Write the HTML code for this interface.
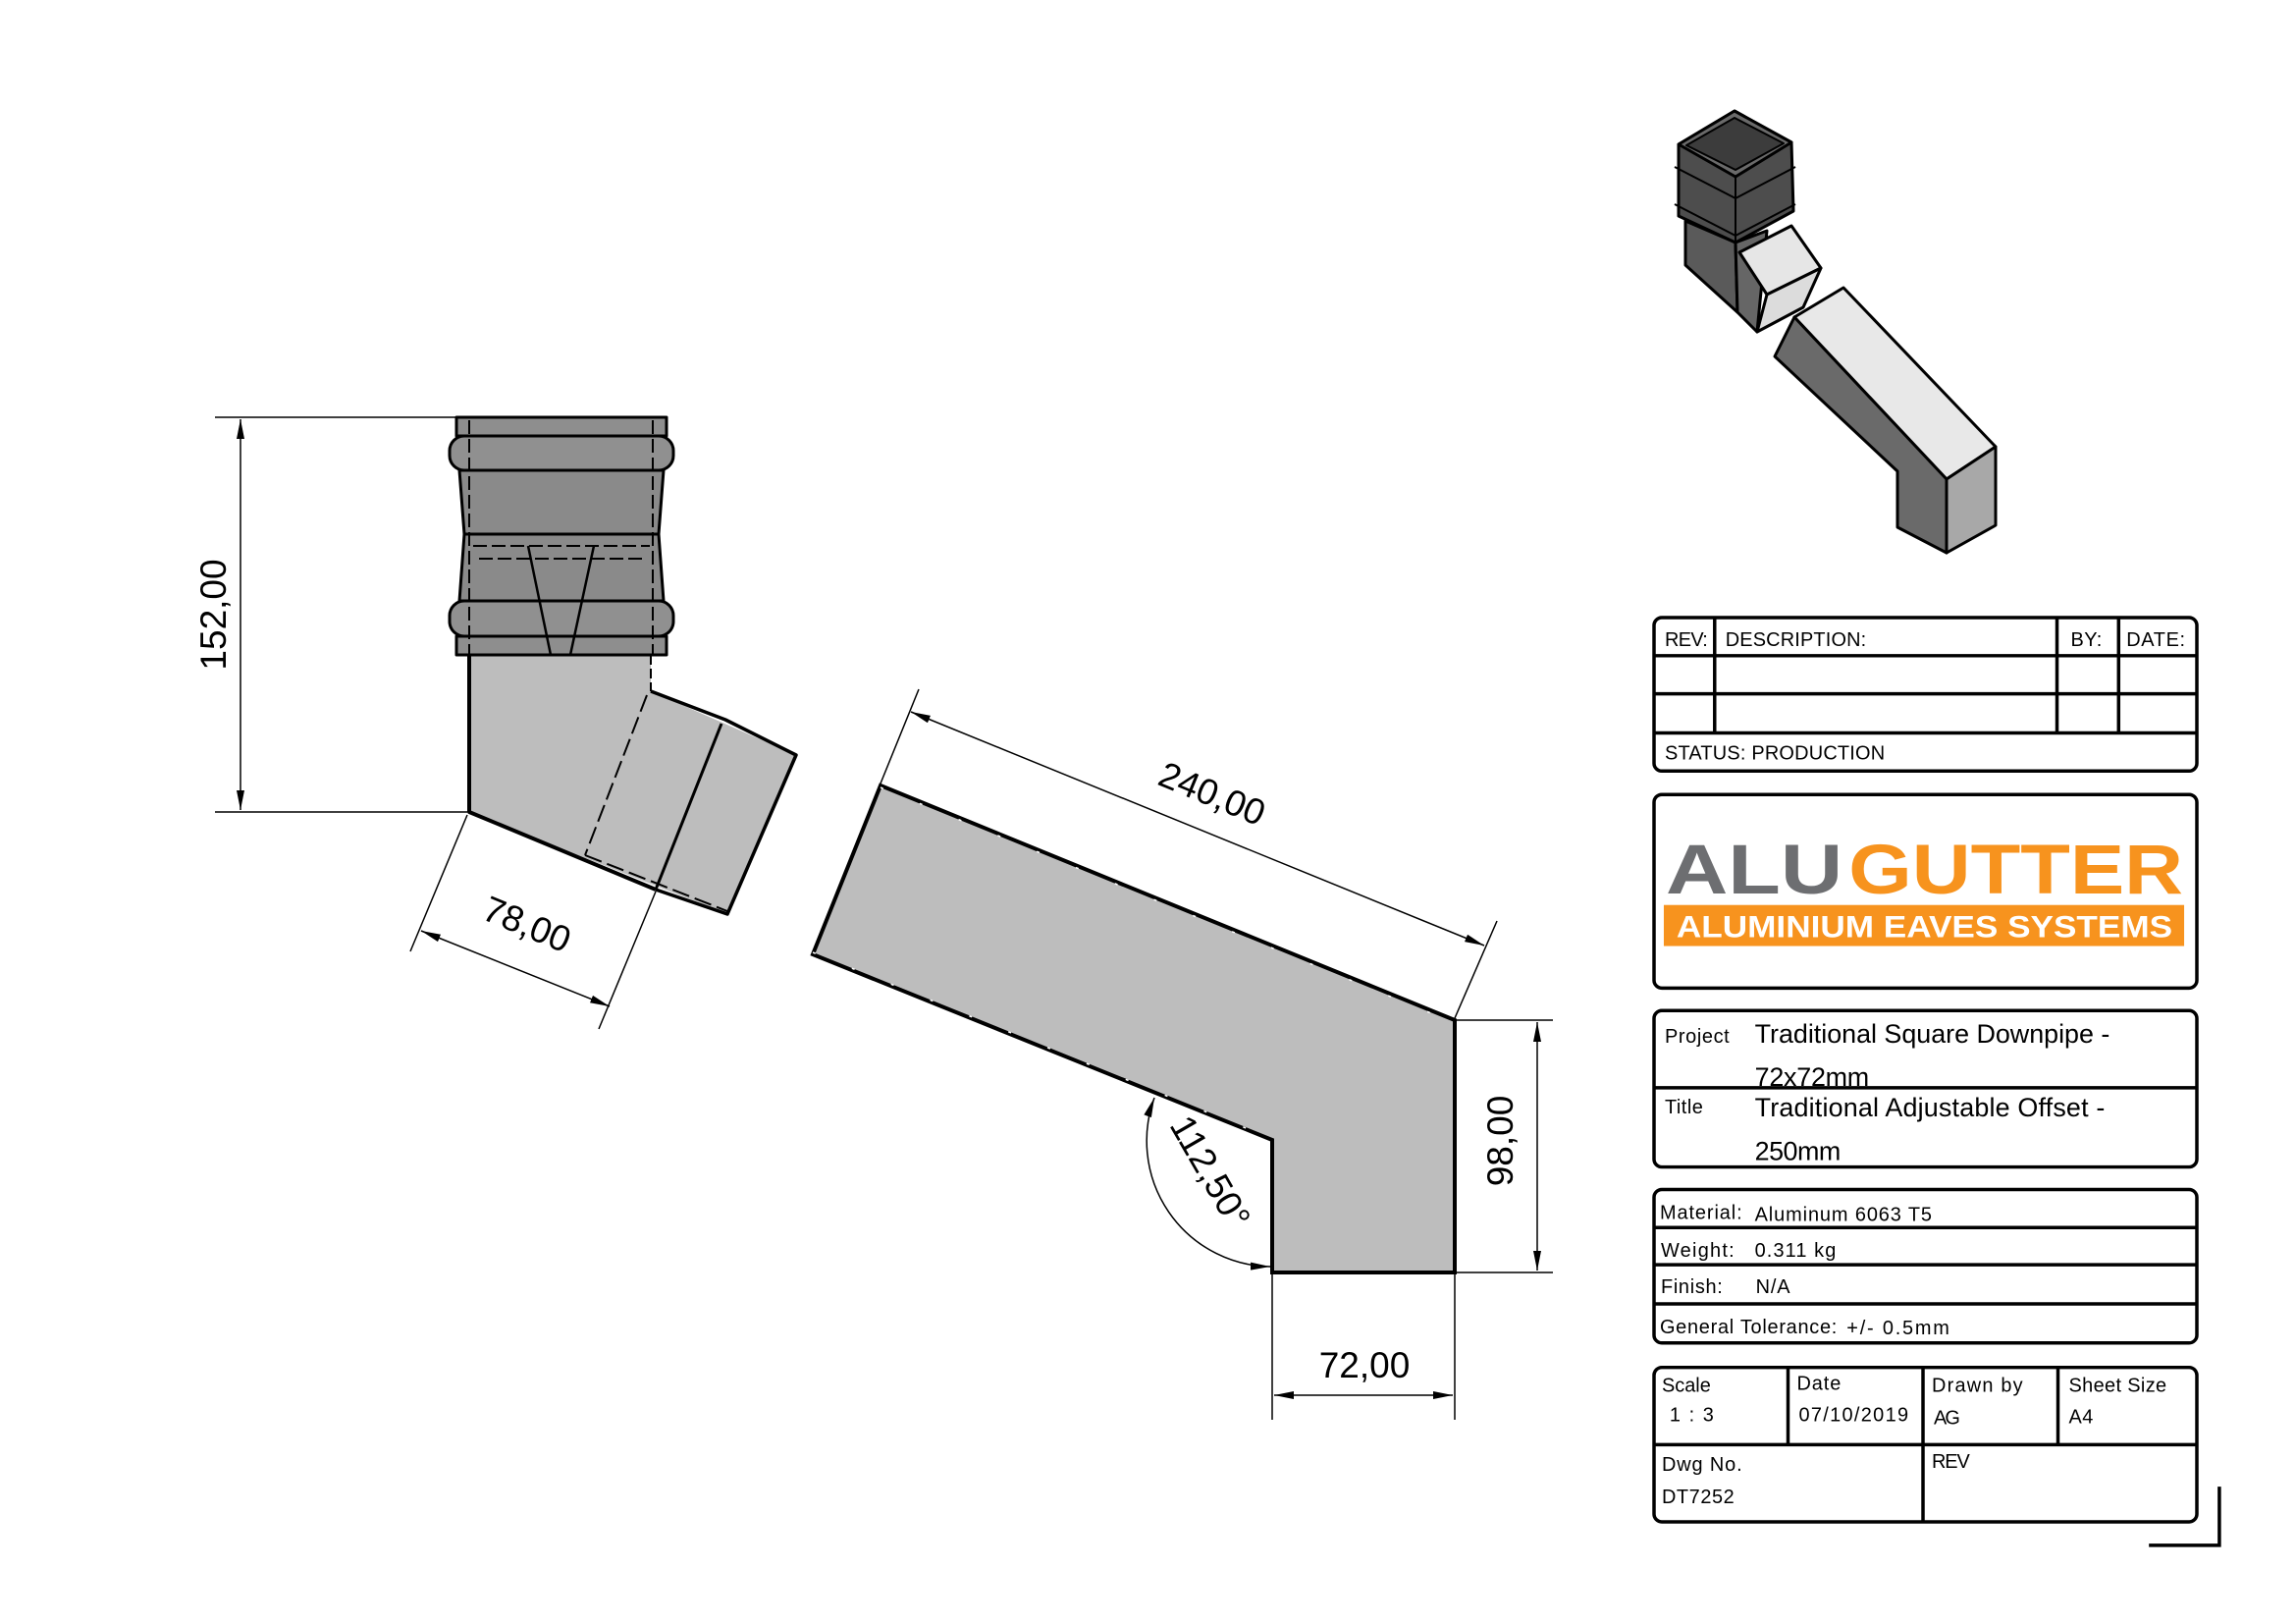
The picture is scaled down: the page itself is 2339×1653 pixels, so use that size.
<!DOCTYPE html>
<html><head><meta charset="utf-8">
<style>html,body{margin:0;padding:0;background:#fff}svg{display:block}</style>
</head><body>
<svg width="2339" height="1653" viewBox="0 0 2339 1653" xmlns="http://www.w3.org/2000/svg" font-family="Liberation Sans, DejaVu Sans, sans-serif">
<defs>
<marker id="ar" viewBox="0 0 20 8" refX="20" refY="4" markerWidth="20" markerHeight="8" markerUnits="userSpaceOnUse" orient="auto-start-reverse">
<path d="M0,0 L20,4 L0,8 z" fill="#000"/></marker>
</defs>
<rect width="2339" height="1653" fill="#fff"/>

<!-- LEFT PIECE -->
<g stroke="#000" stroke-linejoin="round">
<polygon points="478,667 663,667 663,704 811,769 741,931 478,827" fill="#bdbdbd" stroke="none"/>
<polyline points="478,667 478,827 668,906" fill="none" stroke-width="4"/>
<polyline points="663,667 663,704" fill="none" stroke-width="2" stroke-dasharray="10,4"/>
<polyline points="663,704 739,733 811,769 741,931 668,906" fill="none" stroke-width="3.5"/>
<line x1="735" y1="737" x2="668" y2="906" stroke-width="3"/>
<line x1="659" y1="708" x2="596" y2="871" stroke-width="2" stroke-dasharray="18,6"/>
<line x1="596" y1="871" x2="741" y2="928" stroke-width="2" stroke-dasharray="18,6"/>
<rect x="465" y="425" width="214" height="19" fill="#8e8e8e" stroke-width="3"/>
<polygon points="468,479 676,479 671,544 473,544" fill="#8a8a8a" stroke-width="3"/>
<polygon points="473,544 671,544 676,612 468,612" fill="#8a8a8a" stroke-width="3"/>
<rect x="458" y="444" width="228" height="35" rx="15" fill="#909090" stroke-width="3"/>
<rect x="458" y="612" width="228" height="36" rx="15" fill="#909090" stroke-width="3"/>
<rect x="465" y="648" width="214" height="19" fill="#8e8e8e" stroke-width="3"/>
<g fill="none" stroke-width="2" stroke-dasharray="14,5">
<line x1="478" y1="428" x2="478" y2="667"/><line x1="665" y1="428" x2="665" y2="667"/>
<line x1="482" y1="556" x2="662" y2="556"/><line x1="488" y1="569" x2="656" y2="569"/>
</g>
<g fill="none" stroke-width="2.5">
<line x1="538" y1="556" x2="561" y2="667"/><line x1="605" y1="556" x2="581" y2="667"/>
</g>
</g>
<g stroke="#000" stroke-width="1.5" fill="none">
<line x1="219" y1="425" x2="465" y2="425"/><line x1="219" y1="827" x2="476" y2="827"/>
<line x1="245" y1="427" x2="245" y2="825" marker-start="url(#ar)" marker-end="url(#ar)"/>
<line x1="476" y1="830" x2="418" y2="969"/><line x1="668" y1="908" x2="610" y2="1048"/>
<line x1="429" y1="948" x2="621" y2="1025" marker-start="url(#ar)" marker-end="url(#ar)"/>
</g>
<text font-size="37" transform="translate(230,626) rotate(-90)" text-anchor="middle">152,00</text>
<text font-size="37" transform="translate(532,953) rotate(22.5)" text-anchor="middle">78,00</text>

<!-- OFFSET PIECE -->
<polygon points="897,800 1482,1039 1482,1296 1296,1296 1296,1161 828,972" fill="#bdbdbd" stroke="#000" stroke-width="4" stroke-linejoin="miter"/>
<g stroke="#fff" stroke-width="1.5" stroke-dasharray="3,40" fill="none">
<line x1="897" y1="802" x2="1480" y2="1041"/><line x1="828" y1="970" x2="1294" y2="1159"/>
</g>
<g stroke="#000" stroke-width="1.5" fill="none">
<line x1="897" y1="798" x2="936" y2="702"/><line x1="1482" y1="1037" x2="1525" y2="938"/>
<line x1="928" y1="725" x2="1512" y2="963" marker-start="url(#ar)" marker-end="url(#ar)"/>
<line x1="1484" y1="1039" x2="1582" y2="1039"/><line x1="1484" y1="1296" x2="1582" y2="1296"/>
<line x1="1566" y1="1041" x2="1566" y2="1294" marker-start="url(#ar)" marker-end="url(#ar)"/>
<line x1="1296" y1="1298" x2="1296" y2="1446"/><line x1="1482" y1="1298" x2="1482" y2="1446"/>
<line x1="1298" y1="1421" x2="1480" y2="1421" marker-start="url(#ar)" marker-end="url(#ar)"/>
<path d="M1176,1118 A128,128 0 0 0 1294,1290" marker-start="url(#ar)" marker-end="url(#ar)"/>
</g>
<text font-size="37" transform="translate(1230,820) rotate(22.5)" text-anchor="middle">240,00</text>
<text font-size="37" transform="translate(1541,1162) rotate(-90)" text-anchor="middle">98,00</text>
<text font-size="37" x="1390" y="1403" text-anchor="middle">72,00</text>
<text font-size="37" transform="translate(1222,1200) rotate(60)" text-anchor="middle">112,50°</text>

<!-- ISO VIEW -->
<g stroke="#000" stroke-width="3" stroke-linejoin="round">
<polygon points="1717,225 1768,247 1770,318 1717,270" fill="#5a5a5a"/>
<polygon points="1768,247 1800,235 1790,338 1770,318" fill="#666"/>
<polygon points="1772,257 1825,230 1855,273 1800,300" fill="#e6e6e6"/>
<polygon points="1800,300 1855,273 1837,313 1790,338" fill="#dcdcdc"/>
<polygon points="1710,147 1767,113 1825,145 1827,215 1768,247 1710,220" fill="#4d4d4d"/>
<polygon points="1710,147 1767,113 1825,145 1768,180" fill="#6a6a6a"/>
<polygon points="1718,148 1767,120 1817,146 1768,173" fill="#3c3c3c" stroke-width="2"/>
<line x1="1768" y1="180" x2="1768" y2="247" stroke-width="2"/>
<line x1="1706" y1="170" x2="1768" y2="202" stroke-width="2"/><line x1="1768" y1="202" x2="1829" y2="170" stroke-width="2"/>
<line x1="1706" y1="208" x2="1768" y2="240" stroke-width="2"/><line x1="1768" y1="240" x2="1829" y2="208" stroke-width="2"/>
<polygon points="1828,323 1878,293 2033,455 1983,488" fill="#e8e8e8"/>
<polygon points="1828,323 1808,363 1933,480 1933,537 1983,563 1983,488" fill="#6a6a6a"/>
<polygon points="1983,488 2033,455 2033,535 1983,563" fill="#a8a8a8"/>
</g>

<!-- TITLE BLOCK -->
<g transform="matrix(0.9964 0 0 0.9957 -2.9 -1.3)">
<g fill="none" stroke="#000" stroke-width="3.5">
<rect x="1694" y="633" width="555" height="157" rx="8"/>
<line x1="1694" y1="672" x2="2249" y2="672"/><line x1="1694" y1="711" x2="2249" y2="711"/><line x1="1694" y1="751" x2="2249" y2="751"/>
<line x1="1756" y1="633" x2="1756" y2="751"/><line x1="2106" y1="633" x2="2106" y2="751"/><line x1="2169" y1="633" x2="2169" y2="751"/>
<rect x="1694" y="814" width="555" height="198" rx="8"/>
<rect x="1694" y="1035" width="555" height="160" rx="8"/>
<line x1="1694" y1="1114" x2="2249" y2="1114"/>
<rect x="1694" y="1218" width="555" height="157" rx="8"/>
<line x1="1694" y1="1257" x2="2249" y2="1257"/><line x1="1694" y1="1295" x2="2249" y2="1295"/><line x1="1694" y1="1335" x2="2249" y2="1335"/>
<rect x="1694" y="1400" width="555" height="158" rx="8"/>
<line x1="1694" y1="1479" x2="2249" y2="1479"/>
<line x1="1831" y1="1400" x2="1831" y2="1479"/><line x1="1969" y1="1400" x2="1969" y2="1558"/><line x1="2107" y1="1400" x2="2107" y2="1479"/>
<polyline points="2272,1522 2272,1582 2200,1582"/>
</g>
<g font-size="20" fill="#000">
<text x="1705" y="662" textLength="44">REV:</text>
<text x="1767" y="662" textLength="144">DESCRIPTION:</text>
<text x="2120" y="662" textLength="32">BY:</text>
<text x="2177" y="662" textLength="60">DATE:</text>
<text x="1705" y="778" textLength="225">STATUS: PRODUCTION</text>
</g>
<text x="1706" y="915" font-size="72" font-weight="bold" fill="#6d6e71" textLength="181" lengthAdjust="spacingAndGlyphs">ALU</text>
<text x="1893" y="915" font-size="72" font-weight="bold" fill="#f7931e" textLength="342" lengthAdjust="spacingAndGlyphs">GUTTER</text>
<rect x="1704" y="927" width="532" height="42" fill="#f7931e"/>
<text x="1717" y="960" font-size="32" font-weight="bold" fill="#fff" textLength="507" lengthAdjust="spacingAndGlyphs">ALUMINIUM EAVES SYSTEMS</text>
<text x="1705" y="1068" font-size="20" textLength="66">Project</text>
<text x="1797" y="1068" font-size="27" textLength="363">Traditional Square Downpipe -</text>
<text x="1797" y="1112" font-size="27" textLength="117">72x72mm</text>
<text x="1705" y="1140" font-size="20" textLength="39">Title</text>
<text x="1797" y="1143" font-size="27" textLength="358">Traditional Adjustable Offset -</text>
<text x="1797" y="1188" font-size="27" textLength="88">250mm</text>
<g font-size="20">
<text x="1700" y="1248" textLength="84">Material:</text>
<text x="1797" y="1250" textLength="181">Aluminum 6063 T5</text>
<text x="1701" y="1287" textLength="75">Weight:</text>
<text x="1797" y="1287" textLength="83">0.311 kg</text>
<text x="1701" y="1324" textLength="63">Finish:</text>
<text x="1798" y="1324" textLength="35">N/A</text>
<text x="1700" y="1365" textLength="181">General Tolerance:</text>
<text x="1891" y="1366" textLength="105">+/- 0.5mm</text>
<text x="1702" y="1425" textLength="50">Scale</text>
<text x="1710" y="1455" textLength="45">1 : 3</text>
<text x="1840" y="1423" textLength="45">Date</text>
<text x="1842" y="1455" textLength="112">07/10/2019</text>
<text x="1978" y="1425" textLength="93">Drawn by</text>
<text x="1980" y="1458" textLength="27">AG</text>
<text x="2118" y="1425" textLength="100">Sheet Size</text>
<text x="2118" y="1457" textLength="25">A4</text>
<text x="1702" y="1506" textLength="82">Dwg No.</text>
<text x="1702" y="1539" textLength="74">DT7252</text>
<text x="1978" y="1503" textLength="39">REV</text>
</g>
</g>
</svg>
</body></html>
